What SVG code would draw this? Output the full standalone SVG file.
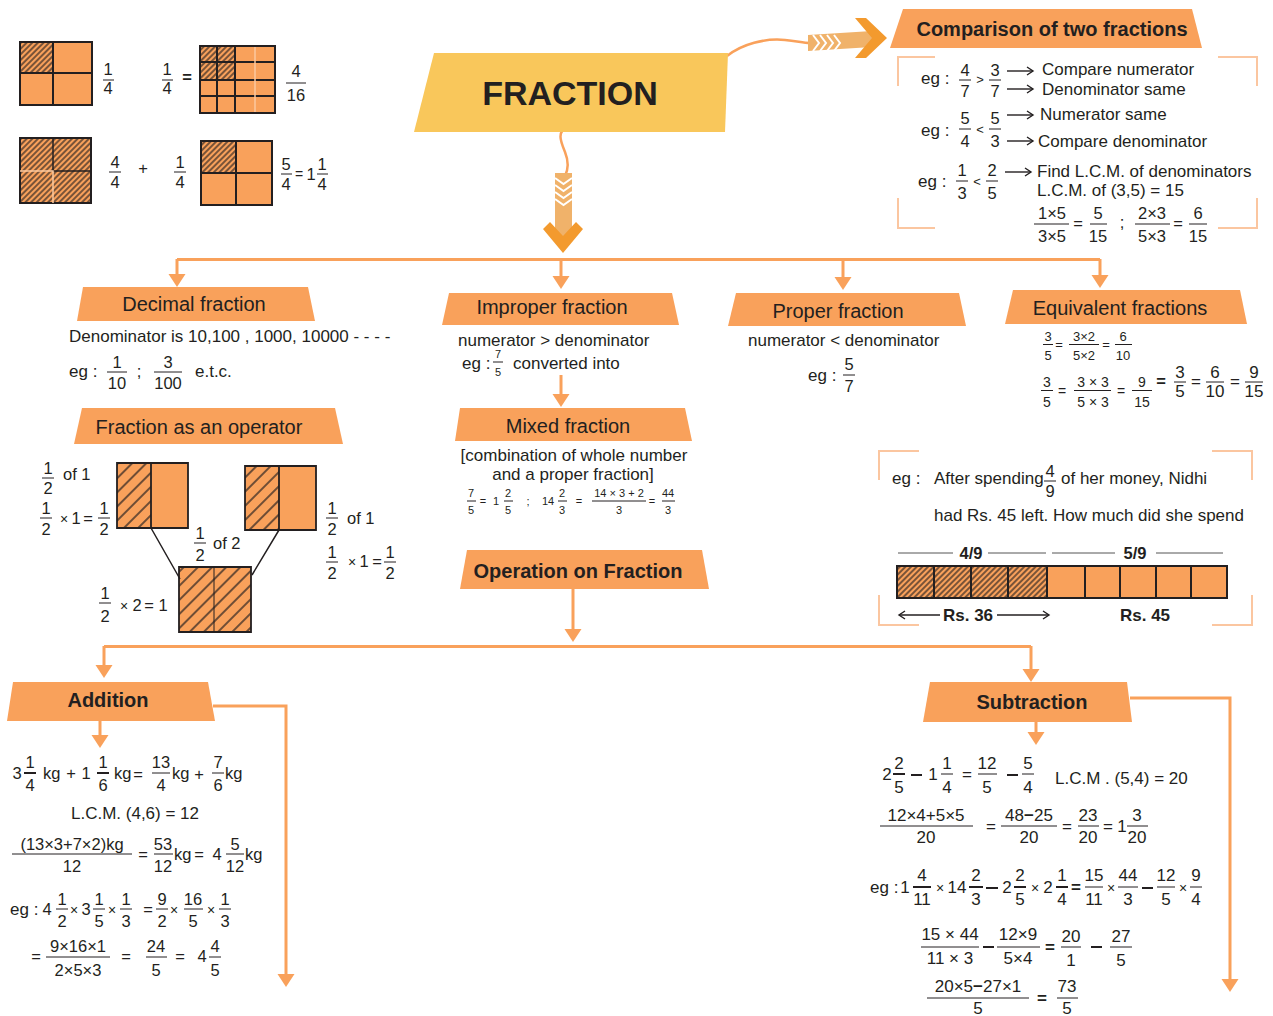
<svg xmlns="http://www.w3.org/2000/svg" width="1273" height="1016" viewBox="0 0 1273 1016">
<defs>
<style>
text{font-family:"Liberation Sans",Arial,sans-serif;fill:#231f20}
.m{text-anchor:middle}
.h{font-size:20px}
.hb{font-size:20px;font-weight:bold}
.b{font-size:17px}
.f{font-size:16.5px}
.s{font-size:13px}
.s14{font-size:14px}
.xs{font-size:11px}
.bd{font-weight:bold}
.bar{stroke:#231f20;stroke-width:1;fill:none}
.bar2{stroke:#231f20;stroke-width:2;fill:none}
.hdr{fill:#F9A15B}
.con{stroke:#F9A15B;stroke-width:3;fill:none}
.thin{stroke:#F9A15B;stroke-width:2.5;fill:none}
.brk{stroke:#FBC6A0;stroke-width:2;fill:none}
.or{fill:#F9A15B}
.lt{stroke:#FBC99F;stroke-width:1.5;fill:none}
.chev{stroke:#ffffff;stroke-width:2;fill:none}
.gl{stroke:#555;stroke-width:1;fill:none}
.ka{stroke:#231f20;stroke-width:1.4;fill:none}
</style>
<pattern id="hd" patternUnits="userSpaceOnUse" width="4" height="4" patternTransform="rotate(45)">
<rect width="4" height="4" fill="#F9A15B"/><line x1="1" y1="0" x2="1" y2="4" stroke="#231f20" stroke-width="1.2"/>
</pattern>
<pattern id="hw" patternUnits="userSpaceOnUse" width="10" height="10" patternTransform="rotate(45)">
<rect width="10" height="10" fill="#F9A15B"/><line x1="1" y1="0" x2="1" y2="10" stroke="#231f20" stroke-width="1.3"/>
</pattern>
<marker id="ah" markerUnits="userSpaceOnUse" markerWidth="13" markerHeight="17" refX="5" refY="8.5" orient="auto" overflow="visible">
<path d="M0,0 L13,8.5 L0,17 Z" fill="#F9A15B"/>
</marker>
<marker id="ka" markerUnits="userSpaceOnUse" markerWidth="8" markerHeight="10" refX="7" refY="5" orient="auto" overflow="visible">
<path d="M1,1 L7,5 L1,9" fill="none" stroke="#231f20" stroke-width="1.4"/>
</marker>
</defs>
<rect width="1273" height="1016" fill="#ffffff"/>

<g id="connectors">
<path class="con" d="M177,259.5H1100"/>
<path class="con" marker-end="url(#ah)" d="M177,259V279"/>
<path class="con" marker-end="url(#ah)" d="M561,259V281"/>
<path class="con" marker-end="url(#ah)" d="M843,259V282"/>
<path class="con" marker-end="url(#ah)" d="M1100,259V280"/>
<path class="con" marker-end="url(#ah)" d="M561,375V399"/>
<path class="con" marker-end="url(#ah)" d="M573,589V634"/>
<path class="con" d="M104,646.5H1031"/>
<path class="con" marker-end="url(#ah)" d="M104,646V670"/>
<path class="con" marker-end="url(#ah)" d="M1031,646V674"/>
<path class="con" marker-end="url(#ah)" d="M213,706H286V979"/>
<path class="con" marker-end="url(#ah)" d="M100,721V740"/>
<path class="con" marker-end="url(#ah)" d="M1130,698H1230V984"/>
<path class="con" marker-end="url(#ah)" d="M1036,722V737"/>
<path class="thin" d="M727,56 C742,44 765,38 785,40 C797,41 803,43 810,43"/>
<polygon points="808,35 872,31 872,47 808,51" fill="#F0B26A"/>
<path class="chev" d="M813,35 L819,43 L813,51 M820,35 L826,43 L820,51 M827,35 L833,43 L827,51 M834,35 L840,43 L834,51"/>
<polygon points="855,18 866,18 887,38 866,58 855,58 872,38" fill="#F39A2E"/>
<path class="thin" d="M568,127 C556,131 561,142 565,152 C569,162 568,170 565,176"/>
<polygon points="555,173 572,173 572,236 555,236" fill="#F0B26A"/>
<path class="chev" d="M555,178 L563.5,184 L572,178 M555,185 L563.5,191 L572,185 M555,192 L563.5,198 L572,192 M555,199 L563.5,205 L572,199"/>
<polygon points="543,229 550,222 563,236 576,222 583,229 563,253" fill="#F39A2E"/>
</g>

<g id="illustration">
<rect x="20" y="42" width="72" height="63" class="or"/>
<rect x="20" y="42" width="33" height="31" fill="url(#hd)"/>
<path class="bar2" d="M20,42H92V105H20Z M53,42V105 M20,73H92"/>
<rect x="200" y="46" width="75" height="67" class="or"/>
<rect x="200" y="46" width="35" height="34" fill="url(#hd)"/>
<path class="bar2" d="M200,46H275V113H200Z M217,46V113 M235,46V113 M200,62H275 M200,80H275 M200,96H275"/>
<path class="lt" d="M255,47V112"/>
<rect x="20" y="138" width="71" height="65" fill="url(#hd)"/>
<path class="bar2" d="M20,138H91V203H20Z"/>
<path stroke="#231f20" stroke-width="1.5" fill="none" d="M53,138V171H91"/>
<path class="lt" d="M20,171H53V203"/>
<rect x="201" y="141" width="71" height="64" class="or"/>
<rect x="201" y="141" width="35" height="32" fill="url(#hd)"/>
<path class="bar2" d="M201,141H272V205H201Z M236,141V205 M201,173H272"/>
<text class="f m" x="108" y="75">1</text><text class="f m" x="108" y="94">4</text>
<text class="f m" x="167" y="75">1</text><text class="f m" x="167" y="94">4</text>
<text class="f m bd" x="187" y="83">=</text>
<text class="f m" x="296" y="77">4</text><text class="f m" x="296" y="101">16</text>
<text class="f m" x="115" y="168">4</text><text class="f m" x="115" y="188">4</text>
<text class="f m" x="143" y="174">+</text>
<text class="f m" x="180" y="168">1</text><text class="f m" x="180" y="188">4</text>
<text class="f m" x="286" y="170">5</text><text class="f m" x="286" y="190">4</text>
<text class="s14 m" x="299" y="179">=</text>
<text class="f m" x="311" y="180">1</text>
<text class="f m" x="322" y="170">1</text><text class="f m" x="322" y="190">4</text>
<path class="bar" d="M103,80H114 M162,80H173 M286,83H306 M109,172H121 M174,172H186 M281,174H292 M317,174H328"/>
</g>

<g id="fraction">
<polygon points="434,53 728,53 725,132 414,132" fill="#F9C75B"/>
<text class="m bd" x="570" y="105" style="font-size:34px">FRACTION</text>
</g>

<g id="comparison">
<polygon class="hdr" points="903,9 1192,9 1202,48 890,48"/>
<text class="hb m" x="1052" y="36">Comparison of two fractions</text>
<path class="brk" d="M898,86V57H935 M1218,57H1257V86 M898,198V228H935 M1218,228H1257V198"/>
<text class="b" x="921" y="84">eg :</text>
<text class="f m" x="965" y="76">4</text><text class="f m" x="965" y="97">7</text>
<text class="s m" x="980" y="84">&gt;</text>
<text class="f m" x="995" y="76">3</text><text class="f m" x="995" y="97">7</text>
<text class="b" x="1042" y="75">Compare numerator</text>
<text class="b" x="1042" y="95">Denominator same</text>
<text class="b" x="921" y="136">eg :</text>
<text class="f m" x="965" y="124">5</text><text class="f m" x="965" y="147">4</text>
<text class="s m" x="980" y="134">&lt;</text>
<text class="f m" x="995" y="124">5</text><text class="f m" x="995" y="147">3</text>
<text class="b" x="1040" y="120">Numerator same</text>
<text class="b" x="1038" y="147">Compare denominator</text>
<text class="b" x="918" y="187">eg :</text>
<text class="f m" x="962" y="176">1</text><text class="f m" x="962" y="199">3</text>
<text class="s m" x="977" y="186">&lt;</text>
<text class="f m" x="992" y="176">2</text><text class="f m" x="992" y="199">5</text>
<text class="b" x="1037" y="177">Find L.C.M. of denominators</text>
<text class="b" x="1037" y="196">L.C.M. of (3,5) = 15</text>
<text class="f m" x="1052" y="219">1×5</text><text class="f m" x="1052" y="242">3×5</text>
<text class="f m" x="1078" y="229">=</text>
<text class="f m" x="1098" y="219">5</text><text class="f m" x="1098" y="242">15</text>
<text class="f m" x="1122" y="228">;</text>
<text class="f m" x="1152" y="219">2×3</text><text class="f m" x="1152" y="242">5×3</text>
<text class="f m" x="1178" y="229">=</text>
<text class="f m" x="1198" y="219">6</text><text class="f m" x="1198" y="242">15</text>
<path class="bar" d="M959,80H971 M989,80H1001 M959,129H971 M989,129H1001 M956,181H968 M986,181H998 M1034,224H1069 M1090,224H1107 M1135,224H1170 M1189,224H1207"/>
<path class="ka" marker-end="url(#ka)" d="M1007,71H1033"/>
<path class="ka" marker-end="url(#ka)" d="M1007,89H1033"/>
<path class="ka" marker-end="url(#ka)" d="M1007,115H1033"/>
<path class="ka" marker-end="url(#ka)" d="M1007,141H1033"/>
<path class="ka" marker-end="url(#ka)" d="M1005,172H1031"/>
</g>

<g id="decimal">
<polygon class="hdr" points="83,287 308,287 315,321 77,321"/>
<text class="h m" x="194" y="311">Decimal fraction</text>
<text class="b" x="69" y="342">Denominator is 10,100 , 1000, 10000 - - - -</text>
<text class="b" x="69" y="377">eg :</text>
<text class="f m" x="117" y="368">1</text><text class="f m" x="117" y="389">10</text>
<text class="f m" x="139" y="377">;</text>
<text class="f m" x="168" y="368">3</text><text class="f m" x="168" y="389">100</text>
<text class="b" x="195" y="377">e.t.c.</text>
<path class="bar" d="M107,372H127 M154,372H182"/>
</g>

<g id="improper">
<polygon class="hdr" points="449,293 672,293 679,325 442,325"/>
<text class="h m" x="552" y="314">Improper fraction</text>
<text class="b" x="458" y="346">numerator &gt; denominator</text>
<text class="b" x="462" y="369">eg :</text>
<text class="xs m" x="498" y="358">7</text><text class="xs m" x="498" y="376">5</text>
<text class="b" x="513" y="369">converted into</text>
<path class="bar" d="M493,362H503"/>
</g>

<g id="proper">
<polygon class="hdr" points="736,293 959,293 966,326 728,326"/>
<text class="h m" x="838" y="318">Proper fraction</text>
<text class="b" x="748" y="346">numerator &lt; denominator</text>
<text class="b" x="808" y="381">eg :</text>
<text class="f m" x="849" y="370">5</text><text class="f m" x="849" y="392">7</text>
<path class="bar" d="M843,375H855"/>
</g>

<g id="equivalent">
<polygon class="hdr" points="1013,290 1240,290 1247,324 1005,324"/>
<text class="h m" x="1120" y="315">Equivalent fractions</text>
<text class="s m" x="1048" y="341">3</text><text class="s m" x="1048" y="360">5</text>
<text class="s m" x="1059" y="349">=</text>
<text class="s m" x="1084" y="341">3×2</text><text class="s m" x="1084" y="360">5×2</text>
<text class="s m" x="1106" y="349">=</text>
<text class="s m" x="1123" y="341">6</text><text class="s m" x="1123" y="360">10</text>
<text class="s14 m" x="1047" y="387">3</text><text class="s14 m" x="1047" y="407">5</text>
<text class="s14 m" x="1062" y="396">=</text>
<text class="s14 m" x="1093" y="387">3 × 3</text><text class="s14 m" x="1093" y="407">5 × 3</text>
<text class="s14 m" x="1121" y="396">=</text>
<text class="s14 m" x="1142" y="387">9</text><text class="s14 m" x="1142" y="407">15</text>
<text class="f m bd" x="1161" y="387">=</text>
<text class="b m" x="1180" y="378">3</text><text class="b m" x="1180" y="397">5</text>
<text class="b m" x="1196" y="387">=</text>
<text class="b m" x="1215" y="378">6</text><text class="b m" x="1215" y="397">10</text>
<text class="b m" x="1235" y="387">=</text>
<text class="b m" x="1254" y="378">9</text><text class="b m" x="1254" y="397">15</text>
<path class="bar" d="M1043,344.5H1053 M1069,344.5H1099 M1115,344.5H1132 M1041,390.5H1053 M1074,390.5H1111 M1132,390.5H1152 M1174,382H1186 M1206,382H1224 M1245,382H1263"/>
</g>

<g id="operator">
<polygon class="hdr" points="82,408 335,408 343,444 74,444"/>
<text class="h m" x="199" y="434">Fraction as an operator</text>
<rect x="117" y="463" width="71" height="65" class="or"/>
<rect x="117" y="463" width="34" height="65" fill="url(#hw)"/>
<path stroke="#231f20" stroke-width="1.8" fill="none" d="M117,463H188V528H117Z M151,463V528"/>
<rect x="245" y="466" width="71" height="64" class="or"/>
<rect x="245" y="466" width="34" height="64" fill="url(#hw)"/>
<path stroke="#231f20" stroke-width="1.8" fill="none" d="M245,466H316V530H245Z M279,466V530"/>
<rect x="179" y="567" width="72" height="65" fill="url(#hw)"/>
<path stroke="#231f20" stroke-width="1.8" fill="none" d="M179,567H251V632H179Z"/>
<path stroke="#231f20" stroke-width="1" fill="none" d="M214,567V632"/>
<path stroke="#231f20" stroke-width="1.5" fill="none" d="M151,528L180,579 M279,530L252,575"/>
<text class="f m" x="48" y="474">1</text><text class="f m" x="48" y="494">2</text>
<text class="f" x="63" y="480">of  1</text>
<text class="f m" x="46" y="514">1</text><text class="f m" x="46" y="535">2</text>
<text class="s14 m" x="64" y="524">×</text><text class="f m" x="76" y="524">1</text><text class="f m" x="88" y="524">=</text>
<text class="f m" x="104" y="514">1</text><text class="f m" x="104" y="535">2</text>
<text class="f m" x="200" y="539">1</text><text class="f m" x="200" y="561">2</text>
<text class="f" x="213" y="549">of 2</text>
<text class="f m" x="105" y="599">1</text><text class="f m" x="105" y="622">2</text>
<text class="s14 m" x="124" y="611">×</text><text class="f m" x="137" y="611">2</text><text class="f m" x="149" y="611">=</text><text class="f m" x="163" y="611">1</text>
<text class="f m" x="332" y="514">1</text><text class="f m" x="332" y="535">2</text>
<text class="f" x="347" y="524">of  1</text>
<text class="f m" x="332" y="558">1</text><text class="f m" x="332" y="579">2</text>
<text class="s14 m" x="352" y="567">×</text><text class="f m" x="364" y="567">1</text><text class="f m" x="377" y="567">=</text>
<text class="f m" x="390" y="558">1</text><text class="f m" x="390" y="579">2</text>
<path class="bar" d="M42,478H54 M40,518H52 M98,518H110 M194,543H206 M99,603H111 M326,518H338 M326,562H338 M384,562H396"/>
</g>

<g id="mixed">
<polygon class="hdr" points="460,408 685,408 692,441 455,441"/>
<text class="h m" x="568" y="433">Mixed fraction</text>
<text class="b m" x="574" y="461">[combination of whole number</text>
<text class="b m" x="573" y="480">and a proper fraction]</text>
<text class="xs m" x="471" y="497">7</text><text class="xs m" x="471" y="514">5</text>
<text class="xs m" x="483" y="505">=</text>
<text class="xs m" x="496" y="505">1</text>
<text class="xs m" x="508" y="497">2</text><text class="xs m" x="508" y="514">5</text>
<text class="xs m" x="528" y="505">;</text>
<text class="xs m" x="548" y="505">14</text>
<text class="xs m" x="562" y="497">2</text><text class="xs m" x="562" y="514">3</text>
<text class="xs m" x="579" y="505">=</text>
<text class="xs m" x="619" y="497">14 × 3 + 2</text><text class="xs m" x="619" y="514">3</text>
<text class="xs m" x="652" y="505">=</text>
<text class="xs m" x="668" y="497">44</text><text class="xs m" x="668" y="514">3</text>
<path class="bar" d="M467,501H476 M504,501H513 M558,501H567 M592,501H646 M662,501H675"/>
</g>

<g id="operation">
<polygon class="hdr" points="467,550 702,550 709,589 460,589"/>
<text class="hb m" x="578" y="578">Operation on Fraction</text>
</g>

<g id="example">
<path class="brk" d="M879,480V451H919 M1212,451H1252V480 M879,595V625H919 M1212,625H1252V595"/>
<text class="b" x="892" y="484">eg :</text>
<text class="b" x="934" y="484">After spending</text>
<text class="f m" x="1050" y="477">4</text><text class="f m" x="1050" y="497">9</text>
<text class="b" x="1061" y="484">of her money, Nidhi</text>
<text class="b" x="934" y="521">had Rs. 45 left. How much did she spend</text>
<path class="bar" d="M1044,481H1056"/>
<path class="gl" d="M898,553H953 M988,553H1046 M1052,553H1115 M1156,553H1223"/>
<text class="f m bd" x="971" y="559">4/9</text>
<text class="f m bd" x="1135" y="559">5/9</text>
<rect x="897" y="566" width="330" height="32" class="or"/>
<rect x="897" y="566" width="150" height="32" fill="url(#hd)"/>
<path class="bar2" d="M897,566H1227V598H897Z M934,566V598 M971,566V598 M1008,566V598 M1047,566V598 M1085,566V598 M1120,566V598 M1156,566V598 M1191,566V598"/>
<path class="ka" stroke-width="1.2" marker-end="url(#ka)" d="M940,615H899"/>
<path class="ka" stroke-width="1.2" marker-end="url(#ka)" d="M997,615H1049"/>
<text class="b m bd" x="968" y="621">Rs. 36</text>
<text class="b m bd" x="1145" y="621">Rs. 45</text>
</g>

<g id="addition">
<polygon class="hdr" points="13,682 208,682 215,721 7,721"/>
<text class="hb m" x="108" y="707">Addition</text>
<text class="f m" x="17" y="779">3</text>
<text class="f m" x="30" y="768">1</text><text class="f m" x="30" y="791">4</text>
<text class="f" x="43" y="779">kg</text>
<text class="f m" x="71" y="779">+</text>
<text class="f m" x="86" y="779">1</text>
<text class="f m" x="103" y="768">1</text><text class="f m" x="103" y="791">6</text>
<text class="f" x="114" y="779">kg</text>
<text class="f m" x="138" y="780">=</text>
<text class="f m" x="161" y="768">13</text><text class="f m" x="161" y="791">4</text>
<text class="f" x="172" y="779">kg</text>
<text class="f m" x="199" y="780">+</text>
<text class="f m" x="218" y="768">7</text><text class="f m" x="218" y="791">6</text>
<text class="f" x="225" y="779">kg</text>
<text class="b m" x="135" y="819">L.C.M. (4,6) = 12</text>
<text class="f m" x="72" y="850">(13×3+7×2)kg</text><text class="f m" x="72" y="872">12</text>
<text class="f m" x="143" y="860">=</text>
<text class="f m" x="163" y="850">53</text><text class="f m" x="163" y="872">12</text>
<text class="f" x="174" y="860">kg</text>
<text class="f m" x="199" y="860">=</text>
<text class="f m" x="217" y="860">4</text>
<text class="f m" x="235" y="850">5</text><text class="f m" x="235" y="872">12</text>
<text class="f" x="245" y="860">kg</text>
<text class="b" x="10" y="915">eg :</text>
<text class="f m" x="47" y="915">4</text>
<text class="f m" x="62" y="905">1</text><text class="f m" x="62" y="927">2</text>
<text class="s14 m" x="74" y="915">×</text>
<text class="f m" x="86" y="915">3</text>
<text class="f m" x="99" y="905">1</text><text class="f m" x="99" y="927">5</text>
<text class="s14 m" x="112" y="915">×</text>
<text class="f m" x="126" y="905">1</text><text class="f m" x="126" y="927">3</text>
<text class="f m" x="148" y="915">=</text>
<text class="f m" x="162" y="905">9</text><text class="f m" x="162" y="927">2</text>
<text class="s14 m" x="174" y="915">×</text>
<text class="f m" x="193" y="905">16</text><text class="f m" x="193" y="927">5</text>
<text class="s14 m" x="211" y="915">×</text>
<text class="f m" x="225" y="905">1</text><text class="f m" x="225" y="927">3</text>
<text class="f m" x="36" y="962">=</text>
<text class="f m" x="78" y="952">9×16×1</text><text class="f m" x="78" y="976">2×5×3</text>
<text class="f m" x="126" y="962">=</text>
<text class="f m" x="156" y="952">24</text><text class="f m" x="156" y="976">5</text>
<text class="f m" x="180" y="962">=</text>
<text class="f m" x="202" y="962">4</text>
<text class="f m" x="215" y="952">4</text><text class="f m" x="215" y="976">5</text>
<path class="bar2" d="M24,773H36 M97,773H109"/>
<path class="bar" d="M152,773H170 M212,773H224 M12,854H132 M154,854H173 M226,854H244 M56,909H68 M93,909H105 M120,909H132 M156,909H168 M184,909H203 M219,909H231 M46,957H110 M146,957H167 M209,957H221"/>
</g>

<g id="subtraction">
<polygon class="hdr" points="930,682 1127,682 1132,722 923,722"/>
<text class="hb m" x="1032" y="709">Subtraction</text>
<text class="b m" x="887" y="780">2</text>
<text class="b m" x="899" y="769">2</text><text class="b m" x="899" y="793">5</text>
<text class="b m" x="933" y="780">1</text>
<text class="b m" x="947" y="769">1</text><text class="b m" x="947" y="793">4</text>
<text class="b m" x="967" y="780">=</text>
<text class="b m" x="987" y="769">12</text><text class="b m" x="987" y="793">5</text>
<text class="b m" x="1028" y="769">5</text><text class="b m" x="1028" y="793">4</text>
<text class="b" x="1055" y="784">L.C.M . (5,4) = 20</text>
<text class="b m" x="926" y="821">12×4+5×5</text><text class="b m" x="926" y="843">20</text>
<text class="b m" x="991" y="832">=</text>
<text class="b m" x="1029" y="821">48<tspan font-weight="bold">−</tspan>25</text><text class="b m" x="1029" y="843">20</text>
<text class="b m" x="1067" y="832">=</text>
<text class="b m" x="1088" y="821">23</text><text class="b m" x="1088" y="843">20</text>
<text class="b m" x="1108" y="832">=</text>
<text class="b m" x="1122" y="832">1</text>
<text class="b m" x="1137" y="821">3</text><text class="b m" x="1137" y="843">20</text>
<text class="b" x="870" y="893">eg :</text>
<text class="b m" x="905" y="893">1</text>
<text class="b m" x="922" y="881">4</text><text class="b m" x="922" y="905">11</text>
<text class="s14 m" x="940" y="893">×</text>
<text class="b m" x="957" y="893">14</text>
<text class="b m" x="976" y="881">2</text><text class="b m" x="976" y="905">3</text>
<text class="b m" x="1007" y="893">2</text>
<text class="b m" x="1020" y="881">2</text><text class="b m" x="1020" y="905">5</text>
<text class="s14 m" x="1035" y="893">×</text>
<text class="b m" x="1048" y="893">2</text>
<text class="b m" x="1062" y="881">1</text><text class="b m" x="1062" y="905">4</text>
<text class="b m bd" x="1076" y="893">=</text>
<text class="b m" x="1094" y="881">15</text><text class="b m" x="1094" y="905">11</text>
<text class="s14 m" x="1111" y="893">×</text>
<text class="b m" x="1128" y="881">44</text><text class="b m" x="1128" y="905">3</text>
<text class="b m" x="1166" y="881">12</text><text class="b m" x="1166" y="905">5</text>
<text class="s14 m" x="1183" y="893">×</text>
<text class="b m" x="1196" y="881">9</text><text class="b m" x="1196" y="905">4</text>
<text class="b m" x="950" y="940">15 × 44</text><text class="b m" x="950" y="964">11 × 3</text>
<text class="b m" x="1018" y="940">12×9</text><text class="b m" x="1018" y="964">5×4</text>
<text class="b m bd" x="1050" y="953">=</text>
<text class="b m" x="1071" y="942">20</text><text class="b m" x="1071" y="966">1</text>
<text class="b m" x="1121" y="942">27</text><text class="b m" x="1121" y="966">5</text>
<text class="b m" x="978" y="992">20×5<tspan font-weight="bold">−</tspan>27×1</text><text class="b m" x="978" y="1014">5</text>
<text class="b m bd" x="1042" y="1004">=</text>
<text class="b m" x="1067" y="992">73</text><text class="b m" x="1067" y="1014">5</text>
<path class="bar2" d="M893,774H905 M911,775H922 M1007,775H1018 M913,887H931 M969,887H983 M986,888H998 M1014,887H1026 M1056,887H1068 M1142,888H1153 M983,947H994 M1091,947H1102"/>
<path class="bar" d="M941,774H953 M978,774H997 M1022,774H1034 M880,826H973 M1001,826H1057 M1078,826H1099 M1127,826H1148 M1085,887H1103 M1118,887H1138 M1157,887H1175 M1190,887H1202 M921,947H979 M997,947H1040 M1061,947H1081 M1110,947H1132 M927,998H1029 M1057,998H1078"/>
</g>
</svg>
